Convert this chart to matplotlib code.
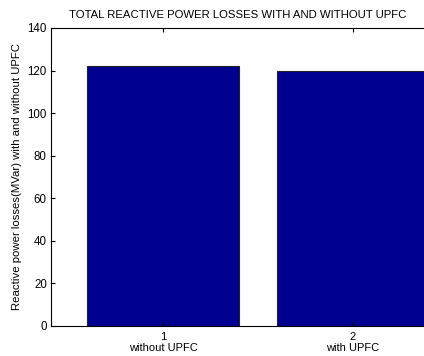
import matplotlib
matplotlib.use('Agg')
import matplotlib.pyplot as plt

positions = [1, 2]
losses = [122.2, 119.9]
tick_labels = ['1\nwithout UPFC', '2\nwith UPFC']

plt.rcParams['font.family'] = ['Liberation Sans', 'DejaVu Sans']

fig = plt.figure(figsize=(4.24, 3.56), dpi=100)
# the original figure is cropped on the right, so the axes run past the edge
ax = fig.add_axes([51/424, 30/356, 416/424, 298/356])
ax.bar(positions, losses, width=0.8, color='#000090', edgecolor='#222222', linewidth=0.8)
ax.set_xlim(0.41, 2.6)
ax.set_ylim(0, 140)
ax.set_yticks(range(0, 141, 20))
ax.set_xticks(positions)
ax.set_xticklabels(tick_labels, fontsize=8, linespacing=1.15)
ax.tick_params(axis='y', labelsize=8.3, direction='in', length=3, pad=3)
ax.tick_params(axis='x', direction='in', length=3, top=True, pad=4)
for s in ax.spines.values():
    s.set_linewidth(0.8)
ax.set_ylabel('Reactive power losses(MVar) with and without UPFC', fontsize=8.2, labelpad=4)
fig.text(238/424, 1 - 15/356, 'TOTAL REACTIVE POWER LOSSES WITH AND WITHOUT UPFC',
         ha='center', va='center', fontsize=8.2)
fig.savefig('out.png', dpi=100)
